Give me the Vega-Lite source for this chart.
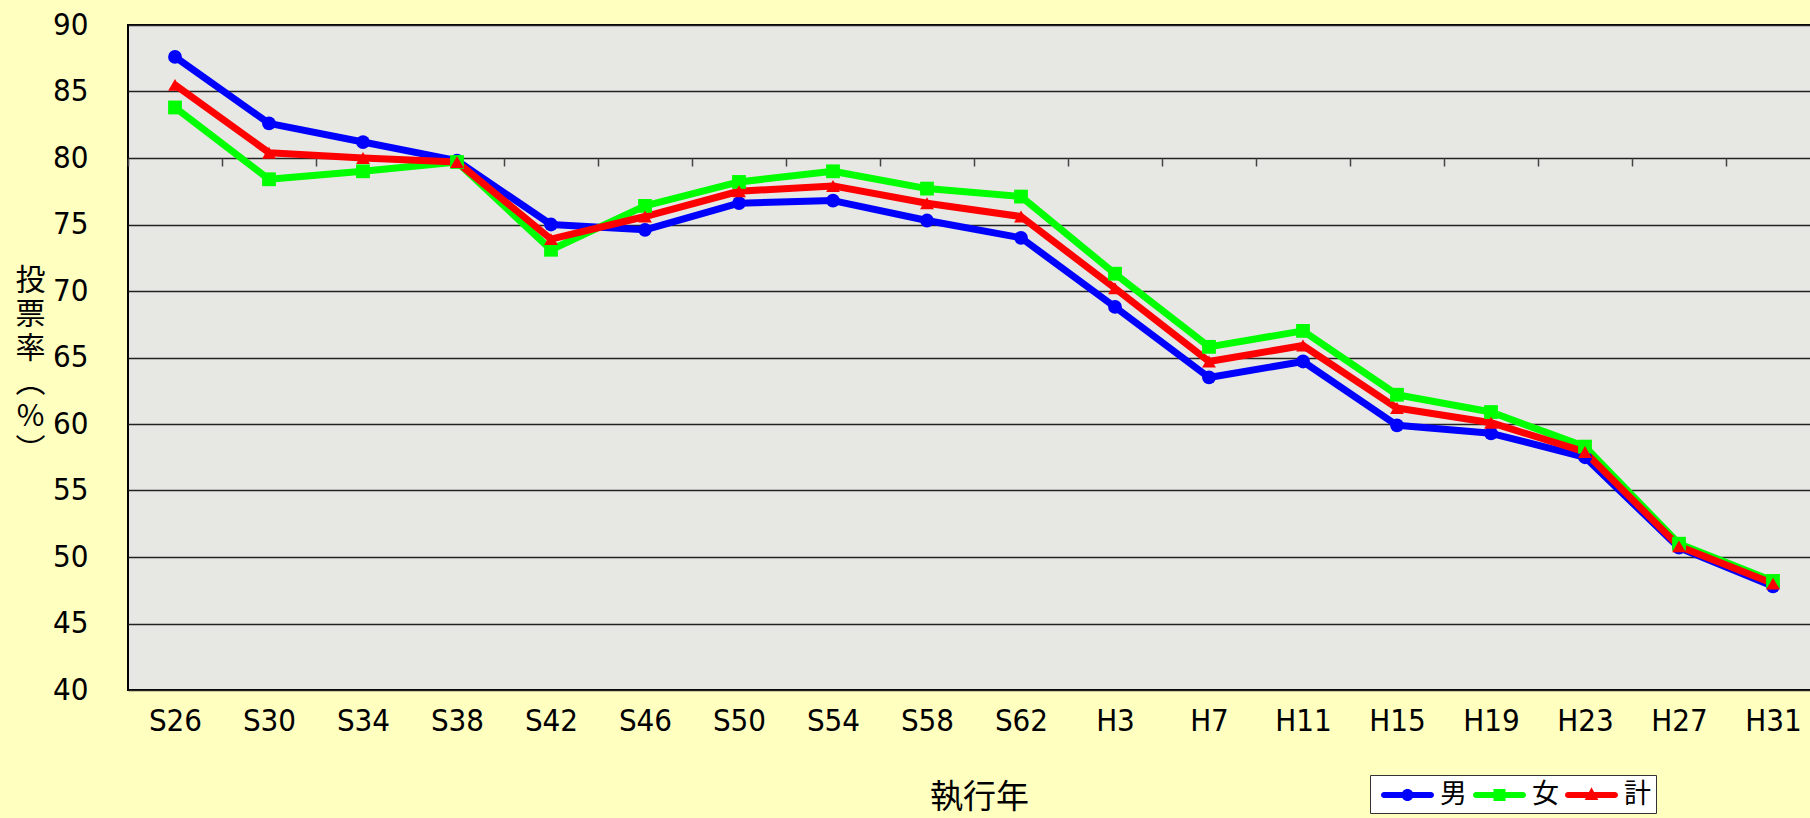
{
  "$schema": "https://vega.github.io/schema/vega-lite/v6.json",
  "width": 1692,
  "height": 665,
  "autosize": {"type": "none"},
  "padding": {"left": 128, "top": 25, "right": 0, "bottom": 128},
  "background": "#ffffc0",
  "config": {
    "view": {"fill": "#e7e7e3", "stroke": "#000000", "strokeWidth": 2},
    "font": "Liberation Sans Narrow, DejaVu Sans Condensed, Noto Sans CJK JP, sans-serif"
  },
  "data": {"values": [
    {"year": "S26", "sex": "男", "v": 87.6}, {"year": "S26", "sex": "女", "v": 83.8}, {"year": "S26", "sex": "計", "v": 85.5},
    {"year": "S30", "sex": "男", "v": 82.6}, {"year": "S30", "sex": "女", "v": 78.4}, {"year": "S30", "sex": "計", "v": 80.4},
    {"year": "S34", "sex": "男", "v": 81.2}, {"year": "S34", "sex": "女", "v": 79.0}, {"year": "S34", "sex": "計", "v": 80.0},
    {"year": "S38", "sex": "男", "v": 79.8}, {"year": "S38", "sex": "女", "v": 79.7}, {"year": "S38", "sex": "計", "v": 79.7},
    {"year": "S42", "sex": "男", "v": 75.0}, {"year": "S42", "sex": "女", "v": 73.1}, {"year": "S42", "sex": "計", "v": 73.9},
    {"year": "S46", "sex": "男", "v": 74.6}, {"year": "S46", "sex": "女", "v": 76.4}, {"year": "S46", "sex": "計", "v": 75.6},
    {"year": "S50", "sex": "男", "v": 76.6}, {"year": "S50", "sex": "女", "v": 78.2}, {"year": "S50", "sex": "計", "v": 77.5},
    {"year": "S54", "sex": "男", "v": 76.8}, {"year": "S54", "sex": "女", "v": 79.0}, {"year": "S54", "sex": "計", "v": 77.9},
    {"year": "S58", "sex": "男", "v": 75.3}, {"year": "S58", "sex": "女", "v": 77.7}, {"year": "S58", "sex": "計", "v": 76.6},
    {"year": "S62", "sex": "男", "v": 74.0}, {"year": "S62", "sex": "女", "v": 77.1}, {"year": "S62", "sex": "計", "v": 75.6},
    {"year": "H3", "sex": "男", "v": 68.8}, {"year": "H3", "sex": "女", "v": 71.3}, {"year": "H3", "sex": "計", "v": 70.2},
    {"year": "H7", "sex": "男", "v": 63.5}, {"year": "H7", "sex": "女", "v": 65.8}, {"year": "H7", "sex": "計", "v": 64.7},
    {"year": "H11", "sex": "男", "v": 64.7}, {"year": "H11", "sex": "女", "v": 67.0}, {"year": "H11", "sex": "計", "v": 65.9},
    {"year": "H15", "sex": "男", "v": 59.9}, {"year": "H15", "sex": "女", "v": 62.2}, {"year": "H15", "sex": "計", "v": 61.2},
    {"year": "H19", "sex": "男", "v": 59.3}, {"year": "H19", "sex": "女", "v": 60.9}, {"year": "H19", "sex": "計", "v": 60.1},
    {"year": "H23", "sex": "男", "v": 57.5}, {"year": "H23", "sex": "女", "v": 58.3}, {"year": "H23", "sex": "計", "v": 57.9},
    {"year": "H27", "sex": "男", "v": 50.7}, {"year": "H27", "sex": "女", "v": 51.0}, {"year": "H27", "sex": "計", "v": 50.8},
    {"year": "H31", "sex": "男", "v": 47.8}, {"year": "H31", "sex": "女", "v": 48.2}, {"year": "H31", "sex": "計", "v": 48.0}
  ]},
  "layer": [
    {
      "mark": {"type": "line", "strokeWidth": 7, "strokeJoin": "round"},
      "encoding": {
        "x": {
          "field": "year", "type": "ordinal", "sort": null,
          "scale": {"type": "point", "padding": 0.5},
          "axis": {
            "labelAngle": 0, "labelFontSize": 31, "labelPadding": 16, "labelColor": "#000",
            "tickSize": 0, "domain": false, "grid": false,
            "title": "執行年", "titleFont": "Noto Sans CJK JP", "titleFontSize": 33, "titleFontWeight": "normal",
            "titleColor": "#000", "titleX": 851, "titleY": 107, "titleBaseline": "middle", "titleAlign": "center"
          }
        },
        "y": {
          "field": "v", "type": "quantitative",
          "scale": {"domain": [40, 90], "nice": false, "zero": false},
          "axis": {
            "values": [40, 45, 50, 55, 60, 65, 70, 75, 80, 85, 90],
            "labelFontSize": 31, "labelPadding": 40, "labelColor": "#000",
            "tickSize": 0, "domain": false,
            "grid": true, "gridColor": "#222222", "gridWidth": 1.5,
            "title": ["投", "票", "率", "︵", "%", "︶"],
            "titleFont": "Noto Sans CJK JP", "titleFontSize": 30, "titleFontWeight": "normal", "titleColor": "#000",
            "titleAngle": 0, "titleX": -98, "titleY": 240, "titleAlign": "center", "titleBaseline": "top", "titleLineHeight": 34
          }
        },
        "color": {
          "field": "sex", "type": "nominal",
          "scale": {"domain": ["男", "女", "計"], "range": ["#0000ff", "#00ff00", "#ff0000"]},
          "legend": null
        }
      }
    },
    {
      "mark": {"type": "point", "filled": true, "opacity": 1, "size": 190},
      "encoding": {
        "x": {"field": "year", "type": "ordinal", "sort": null, "scale": {"type": "point", "padding": 0.5}, "axis": null},
        "y": {"field": "v", "type": "quantitative"},
        "color": {
          "field": "sex", "type": "nominal",
          "scale": {"domain": ["男", "女", "計"], "range": ["#0000ff", "#00ff00", "#ff0000"]},
          "legend": null
        },
        "shape": {
          "field": "sex", "type": "nominal",
          "scale": {"domain": ["男", "女", "計"], "range": ["circle", "square", "triangle-up"]},
          "legend": null
        }
      }
    },
    {
      "mark": {"type": "point", "filled": true, "opacity": 0},
      "encoding": {
        "x": {
          "field": "year", "type": "ordinal", "sort": null,
          "scale": {"type": "band", "paddingInner": 0, "paddingOuter": 0},
          "axis": {
            "offset": -133, "labels": false, "domain": false, "grid": false, "title": null,
            "ticks": true, "tickSize": -8, "tickColor": "#444", "tickWidth": 1.5, "tickBand": "extent"
          }
        },
        "y": {"field": "v", "type": "quantitative"},
        "color": {
          "field": "sex", "type": "nominal",
          "scale": {"domain": ["男", "女", "計"], "range": ["#0000ff", "#00ff00", "#ff0000"]},
          "legend": {
            "title": null, "orient": "none", "legendX": 1242, "legendY": 750, "direction": "horizontal",
            "fillColor": "#ffffff", "strokeColor": "#333333", "padding": 5,
            "symbolSize": 900, "symbolOpacity": 1, "symbolStrokeWidth": 0,
            "labelFont": "Noto Sans CJK JP", "labelFontSize": 27, "labelColor": "#000", "labelOffset": 35,
            "columnPadding": 0
          }
        },
        "shape": {
          "field": "sex", "type": "nominal",
          "scale": {
            "domain": ["男", "女", "計"],
            "range": [
              "M-0.4,-0.2 H2.733 A0.2,0.2 0 0 1 2.733,0.2 H-0.4 A0.2,0.2 0 0 1 -0.4,-0.2 Z M1.567,0 A0.4,0.4 0 1 1 0.767,0 A0.4,0.4 0 1 1 1.567,0 Z",
              "M-0.4,-0.2 H2.733 A0.2,0.2 0 0 1 2.733,0.2 H-0.4 A0.2,0.2 0 0 1 -0.4,-0.2 Z M0.767,-0.4 H1.567 V0.4 H0.767 Z",
              "M-0.4,-0.2 H2.733 A0.2,0.2 0 0 1 2.733,0.2 H-0.4 A0.2,0.2 0 0 1 -0.4,-0.2 Z M1.167,-0.52 L1.62,0.33 H0.713 Z"
            ]
          },
          "legend": {
            "title": null, "orient": "none", "legendX": 1242, "legendY": 750, "direction": "horizontal",
            "fillColor": "#ffffff", "strokeColor": "#333333", "padding": 5,
            "symbolSize": 900, "symbolOpacity": 1, "symbolStrokeWidth": 0,
            "labelFont": "Noto Sans CJK JP", "labelFontSize": 27, "labelColor": "#000", "labelOffset": 35,
            "columnPadding": 0
          }
        }
      }
    }
  ],
  "resolve": {
    "scale": {"x": "independent", "color": "independent", "shape": "independent"},
    "axis": {"x": "independent"}
  }
}
